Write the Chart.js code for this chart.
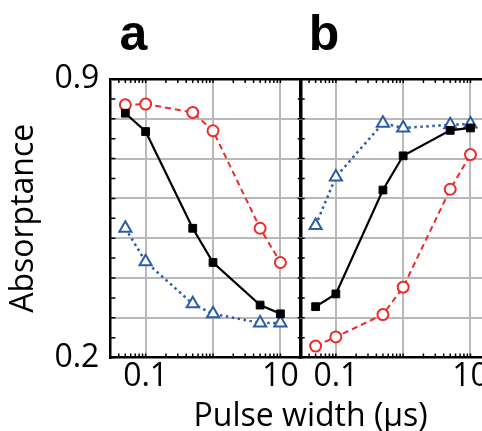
<!DOCTYPE html>
<html>
<head>
<meta charset="utf-8">
<script src="https://cdn.jsdelivr.net/npm/chart.js@4/dist/chart.umd.min.js"></script>
<style>
  html, body { margin: 0; padding: 0; overflow: hidden; background: #fff; }
  #wrap { width: 482px; height: 431px; overflow: hidden; }
</style>
</head>
<body>
<div id="wrap"><canvas id="absorptanceChart" width="530" height="431"></canvas></div>
<script>
// pulse widths (µs), shared by every series
const pulseWidths = [0.05, 0.1, 0.5, 1, 5, 10];

// panel a
const aSquares = [0.814, 0.768, 0.525, 0.439, 0.332, 0.31];
const aCircles = [0.835, 0.837, 0.816, 0.77, 0.525, 0.439];
const aTriangles = [0.525, 0.441, 0.335, 0.31, 0.287, 0.287];

// panel b
const bSquares = [0.328, 0.36, 0.621, 0.707, 0.771, 0.777];
const bCircles = [0.229, 0.252, 0.308, 0.377, 0.623, 0.71];
const bTriangles = [0.532, 0.654, 0.789, 0.777, 0.785, 0.787];

const yLabels = ['0.2', '0.9'];
const xLabels = ['0.1', '10'];
const panelLetters = ['a', 'b'];

const red = '#ee2a2a';
const blue = '#2b5ca8';
const gridGray = '#b9b9b9';
const font = { family: '"Open Sans", sans-serif', size: 32, weight: 'normal', lineHeight: 1.2 };

const pts = ys => ys.map((y, i) => ({ x: pulseWidths[i], y: y }));

function squares(ys, axis) {
  return {
    data: pts(ys), xAxisID: axis,
    borderColor: '#000', borderWidth: 2.2,
    pointStyle: 'rect', pointRadius: 5.5, pointBorderWidth: 1,
    pointBackgroundColor: '#000', pointBorderColor: '#000'
  };
}
function circles(ys, axis) {
  return {
    data: pts(ys), xAxisID: axis,
    borderColor: red, borderWidth: 2, borderDash: [6, 4],
    pointStyle: 'circle', pointRadius: 5.5, pointBorderWidth: 2,
    pointBackgroundColor: '#fff', pointBorderColor: red
  };
}
function triangles(ys, axis) {
  return {
    data: pts(ys), xAxisID: axis,
    borderColor: blue, borderWidth: 2.5, borderDash: [2.5, 3.5],
    pointStyle: 'triangle', pointRadius: 7, pointBorderWidth: 2,
    pointBackgroundColor: '#fff', pointBorderColor: blue
  };
}

function isDecade(v) {
  const l = Math.log10(v);
  return Math.abs(l - Math.round(l)) < 1e-6;
}

function xScale(max, weight, divider) {
  return {
    type: 'logarithmic', position: 'bottom', stack: 'pulse', stackWeight: weight,
    min: 0.03, max: max,
    border: { color: '#000', width: 2.5 },
    grid: {
      drawTicks: false,
      color: c => (divider && c.index === 0) ? '#000' : (c.tick && isDecade(c.tick.value) ? gridGray : 'rgba(0,0,0,0)'),
      lineWidth: c => (divider && c.index === 0) ? 3.5 : 2
    },
    ticks: {
      autoSkip: false, maxRotation: 0, padding: 0, color: '#000', font: font,
      callback: v => {
        const s = String(+Number(v).toPrecision(6));
        return xLabels.includes(s) ? s : '';
      }
    }
  };
}

// small inward tick marks on the frame, plus the panel letters
const frameTicks = {
  id: 'frameTicks',
  beforeDatasetsDraw(chart) {
    const { ctx, chartArea, scales } = chart;
    ctx.save();
    ctx.strokeStyle = '#000';
    ctx.lineWidth = 1.5;
    ctx.beginPath();
    for (const id of ['xa', 'xb']) {
      const s = scales[id];
      for (let k = -2; k <= 2; k++) {
        for (let m = 1; m <= 9; m++) {
          const v = m * Math.pow(10, k);
          if (v <= s.min || v >= s.max) continue;
          const px = s.getPixelForValue(v);
          ctx.moveTo(px, chartArea.bottom); ctx.lineTo(px, chartArea.bottom - 4);
          ctx.moveTo(px, chartArea.top); ctx.lineTo(px, chartArea.top + 4);
        }
      }
    }
    const y = scales.y;
    const mid = scales.xb.left;
    y.ticks.forEach(t => {
      const py = y.getPixelForValue(t.value);
      ctx.moveTo(chartArea.left, py); ctx.lineTo(chartArea.left + 5, py);
      ctx.moveTo(mid - 3, py); ctx.lineTo(mid + 4, py);
    });
    ctx.stroke();
    ctx.restore();
  },
  afterDraw(chart) {
    const { ctx, chartArea, scales } = chart;
    ctx.save();
    ctx.fillStyle = '#000';
    ctx.font = 'bold 50px "Liberation Sans", Arial, sans-serif';
    ctx.textBaseline = 'alphabetic';
    ctx.fillText(panelLetters[0], scales.xa.left + 9, chartArea.top - 29);
    ctx.fillText(panelLetters[1], scales.xb.left + 8, chartArea.top - 29);
    ctx.restore();
  }
};

new Chart(document.getElementById('absorptanceChart'), {
  type: 'line',
  data: {
    datasets: [
      squares(aSquares, 'xa'), circles(aCircles, 'xa'), triangles(aTriangles, 'xa'),
      squares(bSquares, 'xb'), circles(bCircles, 'xb'), triangles(bTriangles, 'xb')
    ]
  },
  options: {
    responsive: false,
    animation: false,
    layout: { padding: { left: 3, right: 19, top: 79, bottom: 2 } },
    elements: { line: { tension: 0, fill: false } },
    plugins: {
      legend: { display: false },
      tooltip: { enabled: false },
      title: {
        display: true, text: 'Pulse width (µs)', position: 'bottom', fullSize: false,
        color: '#000', font: { family: font.family, size: 32, weight: 'normal', lineHeight: 0.75 },
        padding: { top: 9, bottom: 0 }
      }
    },
    scales: {
      xa: xScale(20, 190, false),
      xb: xScale(40, 210, true),
      y: {
        min: 0.2, max: 0.9, position: 'left',
        border: { color: '#000', width: 2.5 },
        grid: {
          drawTicks: false,
          color: c => {
            const h = Math.round(c.tick.value * 100);
            if (h === 90) return '#000';
            if (h === 20 || h % 10 === 5) return 'rgba(0,0,0,0)';
            return gridGray;
          },
          lineWidth: c => Math.round(c.tick.value * 100) === 90 ? 2.5 : 2
        },
        ticks: {
          stepSize: 0.05, autoSkip: false, padding: 11, color: '#000', font: font,
          callback: v => {
            const s = String(Math.round(v * 100) / 100);
            return yLabels.includes(s) ? s : '';
          }
        },
        title: {
          display: true, text: 'Absorptance', color: '#000', font: font,
          padding: { top: 2, bottom: 0 }
        }
      }
    }
  },
  plugins: [frameTicks]
});
</script>
</body>
</html>
